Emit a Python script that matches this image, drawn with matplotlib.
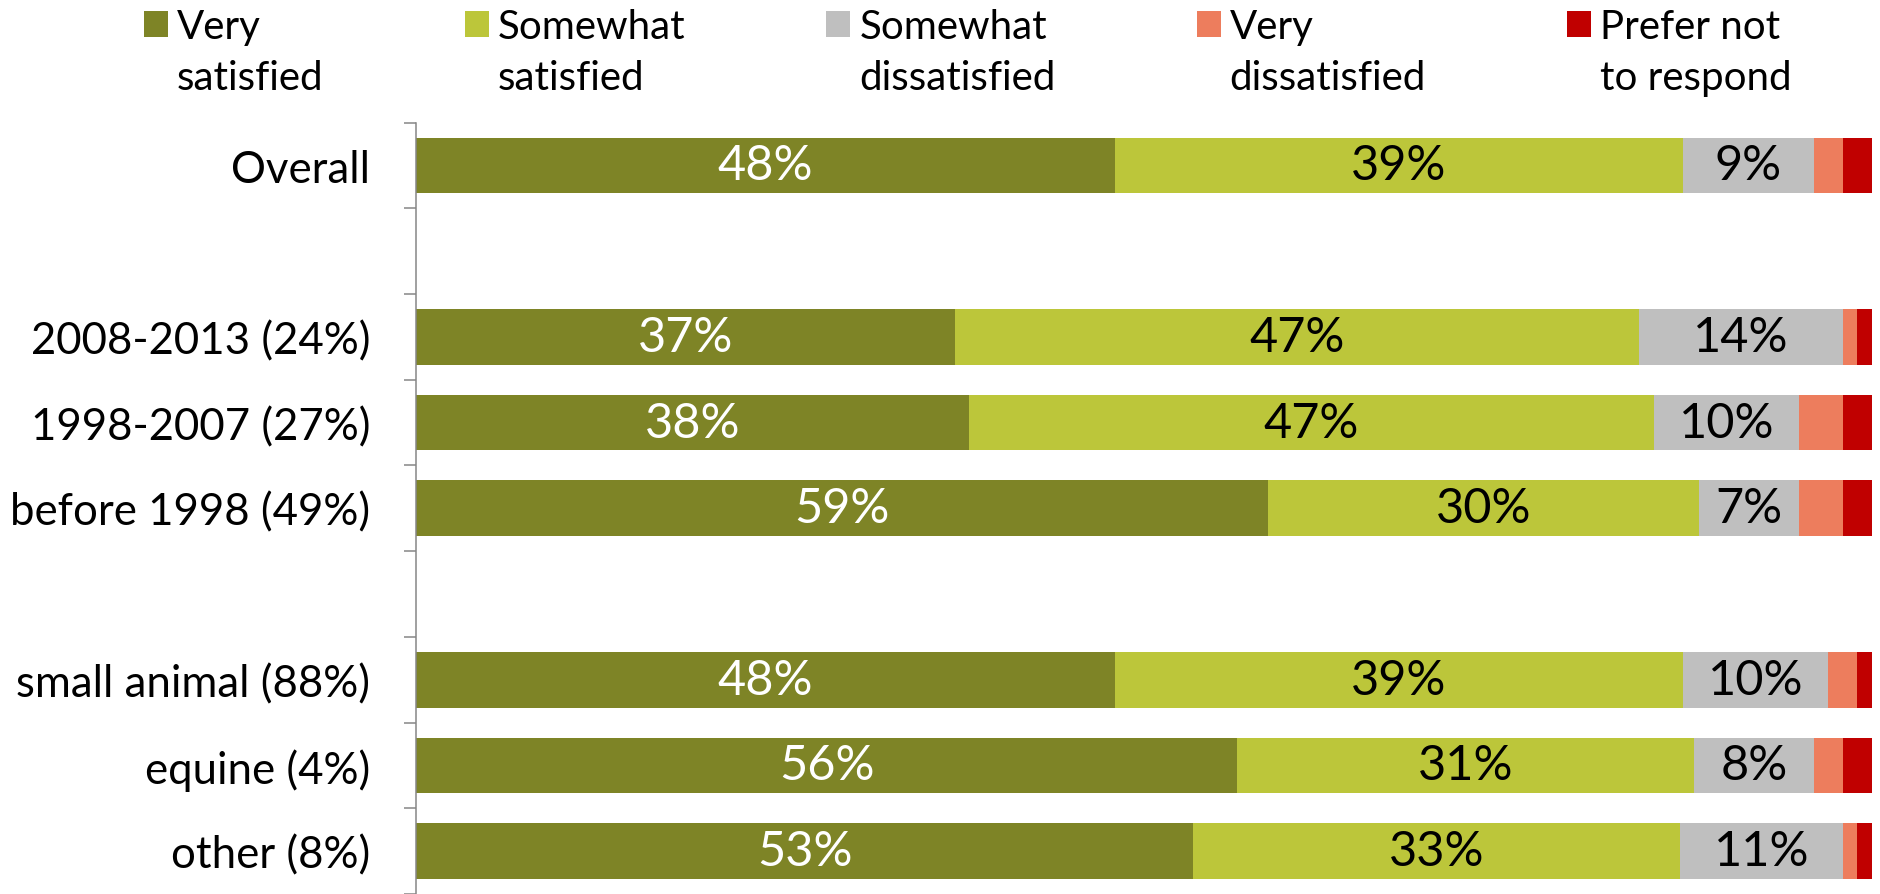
"""Satisfaction by graduation year and practice type, 100% stacked bars."""
import matplotlib
matplotlib.use("Agg")
import matplotlib.pyplot as plt
from matplotlib.patches import Patch
import numpy as np

plt.rcParams["font.family"] = ["Lato", "DejaVu Sans"]

categories = ["Overall", "2008-2013 (24%)", "1998-2007 (27%)", "before 1998 (49%)",
              "small animal (88%)", "equine (4%)", "other (8%)"]
group = [0, 1, 1, 1, 2, 2, 2]  # blank row between groups

series = ["Very\nsatisfied", "Somewhat\nsatisfied", "Somewhat\ndissatisfied",
          "Very\ndissatisfied", "Prefer not\nto respond"]
very_sat = [48, 37, 38, 58.5, 48, 56.4, 53.4]
somewhat_sat = [39, 47, 47, 29.6, 39, 31.4, 33.4]
somewhat_dis = [9, 14, 10, 6.9, 10, 8.2, 11.2]
very_dis = [2, 1, 3, 3.0, 2, 2, 1]
no_resp = [2, 1, 2, 2.0, 1, 2, 1]
colors = ["#7E8426", "#BCC63A", "#BFBFBF", "#ED7D5D", "#C00000"]
text_colors = ["white", "black", "black", "black", "black"]

values = np.array([very_sat, somewhat_sat, somewhat_dis, very_dis, no_resp], dtype=float)
ypos = np.arange(len(categories)) + np.array(group)

fig = plt.figure(figsize=(18.8, 8.95), dpi=100)
ax = fig.add_axes([0.2213, 0.0, 0.9957 - 0.2213, 0.862])

left = np.zeros(len(categories))
handles = []
for vals, col, tcol, name in zip(values, colors, text_colors, series):
    bars = ax.barh(ypos, vals, left=left, height=0.65, color=col, linewidth=0)
    for b, v in zip(bars, vals):
        if v >= 5:
            ax.text(b.get_x() + b.get_width() / 2, b.get_y() + b.get_height() / 2,
                    f"{int(v + 0.5)}%", ha="center", va="center",
                    color=tcol, fontsize=35)
    left += vals
    handles.append(bars)

ax.set_xlim(0, 100)
ax.set_ylim(ypos.max() + 0.5, -0.5)
ax.set_yticks(ypos)
ax.set_yticklabels(categories, fontsize=31.5)
ax.set_yticks(np.arange(-0.5, ypos.max() + 1, 1.0), minor=True)
ax.tick_params(axis="y", which="major", length=0, pad=33)
ax.tick_params(axis="y", which="minor", length=9, width=1.1, color="#868686")
ax.xaxis.set_visible(False)
for s in ["top", "right", "bottom"]:
    ax.spines[s].set_visible(False)
ax.spines["left"].set_color("#868686")
ax.spines["left"].set_linewidth(1.1)

# legend: two text rows per entry, swatch aligned with the first row
blank = Patch(facecolor="none", edgecolor="none")
leg_h, leg_l = [], []
for h, name in zip(handles, series):
    top, bottom = name.split("\n")
    leg_h += [h, blank]
    leg_l += [top, bottom]
fig.legend(leg_h, leg_l, ncol=5, loc="upper left", bbox_to_anchor=(0.0766, 0.99),
           frameon=False, fontsize=29, handlelength=0.6, handleheight=0.6,
           handletextpad=0.22, columnspacing=3.5, labelspacing=0.36, borderpad=0,
           borderaxespad=0)

fig.savefig("out.png", dpi=100)
plt.close(fig)
